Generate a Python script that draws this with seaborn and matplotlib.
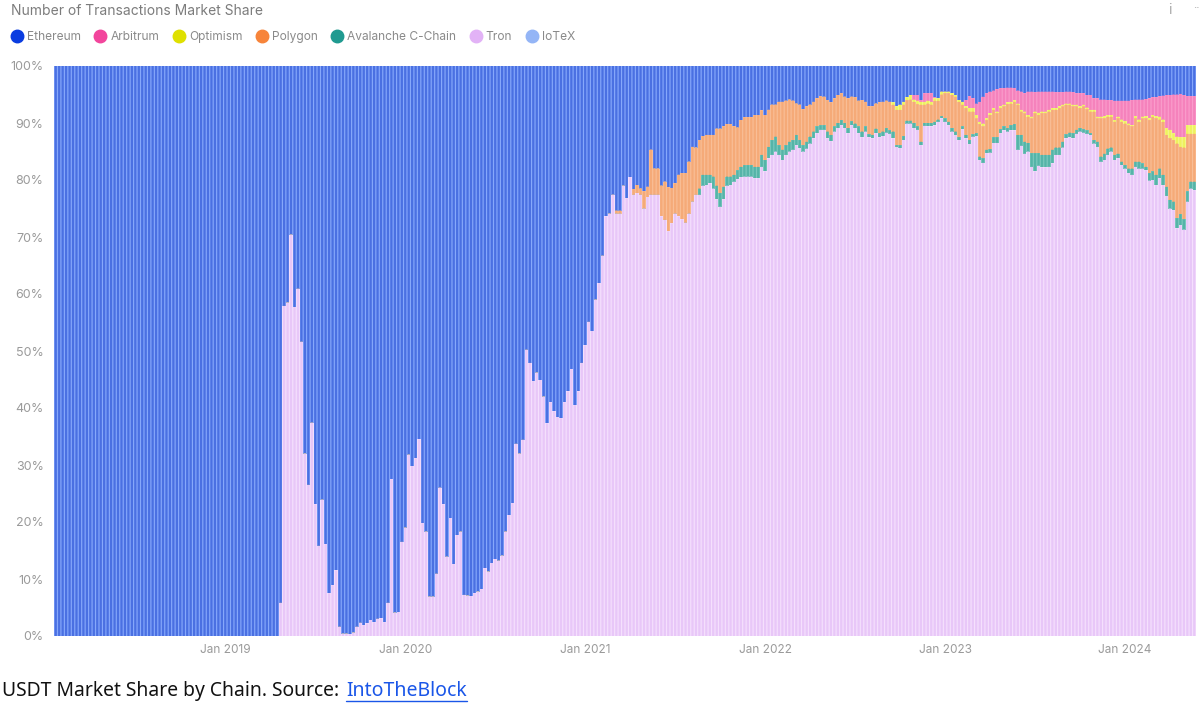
import numpy as np
import pandas as pd
import matplotlib
matplotlib.use("Agg")
import matplotlib.pyplot as plt
from matplotlib.lines import Line2D
import seaborn as sns

# upper edge of each chain in the stack, % per week
tron_top = [0] * 65 + [
    5.8, 57.9, 58.5, 70.4, 57.7, 60.9, 51.6, 32, 26.5, 37.4,
    23.1, 15.8, 23.9, 16.1, 7.5, 8.9, 11.5, 1.6, 0.4, 0.4,
    0.3, 0.6, 1.6, 2.3, 1.9, 2.2, 2.8, 2.4, 3, 3.1,
    2.4, 5.8, 27.5, 4.1, 4.2, 16.5, 19, 31.8, 29.8, 31.2,
    34.5, 19.8, 18.3, 6.9, 6.9, 10.9, 26, 23.1, 13.9, 20.7,
    12.6, 17.7, 18.3, 7.2, 7.1, 7, 7.5, 7.8, 8.2, 11.9,
    11.3, 12.8, 13.5, 13.2, 14.1, 18.3, 21.2, 23.3, 33.7, 32,
    34.4, 50.2, 47.9, 44.7, 46.2, 44.9, 42, 37.3, 41, 39.4,
    38.4, 38.2, 41, 42.9, 46.8, 40.5, 42.9, 47.9, 51, 55.1,
    53.5, 59, 61.9, 66.7, 73.6, 74.1, 77.4, 74.1, 74.1, 79,
    76.8, 80.5, 77.4, 77.7, 77.4, 75, 77, 77.4, 77.4, 77.4,
    73.6, 73, 71, 72.4, 74.1, 73.6, 73.1, 72.5, 74.1, 76.2,
    77.4, 77.4, 79, 79.1, 79.4, 78.5, 76.6, 75.3, 76.6, 79,
    79.1, 79.7, 80.1, 80.5, 80.6, 80.6, 80.6, 80.3, 80.3, 82.3,
    81.5, 83.8, 84.4, 85, 84.4, 83.5, 84.4, 85, 85.3, 86.1,
    85.6, 85, 85.5, 86.4, 87.3, 88.2, 88.8, 88.8, 87.3, 86.8,
    88.5, 89.1, 89.6, 89.1, 88.2, 89.6, 89.1, 88.2, 87.5, 88.5,
    87.5, 87.3, 88.2, 87.5, 87.7, 88.3, 88.1, 87.3, 85.8, 85.6,
    87, 89.9, 89.9, 89.1, 88.8, 86.1, 89.5, 89.4, 89.4, 89.6,
    90.2, 90.8, 90.2, 89.6, 88.5, 87.9, 87, 88.9, 87.3, 86.3,
    87.6, 87.7, 83.5, 83, 84.7, 84.8, 86.5, 86.5, 88.2, 88.7,
    88.5, 88.7, 88.7, 85.3, 86, 84.6, 85, 82.3, 81.5, 82.5,
    82.2, 82.2, 82.3, 82.9, 84.4, 84.4, 85.7, 87.3, 87.5, 87.3,
    88.1, 88.5, 88.3, 88.1, 87.9, 86.4, 85.8, 83.2, 83.5, 84.4,
    85, 83.5, 83.8, 82.6, 82, 81.2, 80.9, 82.3, 82, 82,
    81.7, 79.9, 80, 79.1, 80.3, 79.1, 77.2, 75, 74.7, 71.5,
    72.1, 71.3, 76.2, 78.5, 78.2,
]
avalanche_top = tron_top[:186] + [
    78.5, 80.9, 80.9, 80.9, 80.6, 79, 77.7, 78.8, 80.6, 80.6,
    80.9, 81.7, 82.3, 82.6, 82.6, 82.6, 82.3, 82.3, 84.4, 83.5,
    85.8, 87, 87.6, 86.1, 85.3, 86.1, 86.7, 87, 87.9, 87,
    86.1, 86.7, 87.6, 88.5, 89.4, 89.6, 89.6, 88.5, 87.9, 89.4,
    90, 90.5, 90, 89.1, 90.3, 89.9, 89.4, 88.5, 89.4, 88,
    87.9, 89, 88.2, 88.5, 89.1, 88.7, 88.5, 86.1, 86.1, 87.7,
    90.4, 90.4, 90, 89.4, 86.7, 90, 90, 90, 90.2, 90.6,
    91.2, 90.8, 90.2, 89.1, 88.5, 87.5, 89.4, 87.9, 87, 88,
    88.2, 84.1, 83.8, 85.3, 85.4, 87.5, 87.5, 88.9, 89.4, 89.1,
    89.6, 89.8, 87.9, 87.9, 86.7, 86.5, 84.7, 84.7, 84.7, 84.4,
    84.4, 84.4, 85.3, 85.7, 85.7, 86.7, 88, 88.3, 88.2, 88.8,
    89.1, 88.9, 88.7, 88.2, 87, 86.7, 84.1, 84.6, 85.5, 85.7,
    84.4, 84.6, 83.2, 82.6, 82, 82, 83.2, 83.2, 82.9, 82.3,
    81.2, 81.5, 80.9, 82, 80.9, 78.8, 76.5, 76.2, 73.3, 74,
    73.1, 78, 79.7, 79.7,
]
polygon_top = tron_top[:162] + [
    74.6, 74.6, 79, 76.8, 80.5, 78.4, 79.1, 78.5, 78, 78.8,
    85.3, 82, 82, 79, 79.7, 78.7, 78.6, 79.4, 80.9, 81.2,
    81.2, 83.2, 85.8, 85.7, 87, 87.7, 87.9, 87.9, 87.9, 89,
    89, 89.4, 89.8, 89.8, 89.4, 89.2, 90.5, 91, 91, 91,
    91.4, 91.4, 92.2, 91.4, 92.3, 93.2, 93.2, 93.7, 93.7, 93.9,
    94.1, 93.9, 93.4, 93.2, 92.4, 92.9, 93.2, 93.7, 94.3, 94.7,
    94.6, 94, 93.6, 94.3, 94.9, 95.2, 94.6, 94.3, 94.6, 94.5,
    93.9, 94, 93.7, 92.9, 92.9, 93.4, 93.6, 93.7, 93.9, 93.7,
    93.2, 92.3, 92.3, 93.2, 94, 94.1, 93.7, 93.3, 93.2, 93.2,
    93.4, 93.2, 93.9, 93.9, 95, 95.2, 95.2, 94.9, 94.6, 93.7,
    93.2, 92.6, 92, 92, 90.8, 89.8, 89.4, 90.5, 91.4, 92.3,
    91.7, 92.6, 92.9, 93.3, 93.4, 93.7, 93.2, 92, 91.7, 91.1,
    90.8, 91.7, 91.4, 91.7, 91.7, 92, 92.3, 92.3, 92.6, 92.9,
    93.2, 93.2, 92.9, 92.9, 92.6, 92.9, 92.4, 92, 92, 90.8,
    90.8, 90.8, 91.1, 91.1, 90.2, 90.8, 90.2, 89.9, 89.6, 89.4,
    90.8, 90.2, 90.8, 90.8, 90.5, 91.1, 90.8, 90.6, 90.2, 87.9,
    87.3, 87, 86.4, 85.8, 85.7, 88.1, 88.1, 88.1,
]
optimism_top = polygon_top[:242] + [
    93.6, 92.9, 93.2, 93.7, 94.5, 94.9, 94.1, 93.9, 93.7, 93.7,
    93.9, 93.7, 94.3, 94.3, 95.5, 95.5, 95.5, 95.2, 94.9, 94,
    93.7, 92.9, 92.6, 92.6, 91.4, 90.2, 89.9, 90.8, 91.7, 92.6,
    92, 92.9, 93.2, 93.6, 93.7, 94, 93.4, 92.3, 92, 91.4,
    91.1, 92, 91.8, 92, 92, 92.3, 92.6, 92.6, 92.9, 93.2,
    93.4, 93.4, 93.2, 93.2, 92.9, 93.2, 92.7, 92.3, 92.3, 91.1,
    91.1, 91.2, 91.4, 91.4, 90.5, 91.1, 90.6, 90.3, 89.9, 89.6,
    91.2, 90.6, 91.1, 91.2, 90.8, 91.4, 91.2, 91.1, 90.6, 89.1,
    88.8, 88.2, 87.6, 87.5, 87.5, 89.6, 89.6, 89.6,
]
arbitrum_top = optimism_top[:248] + [
    94.9, 94.9, 94, 95.2, 95.2, 95.2, 94.5, 94.3, 95.5, 95.5,
    95.5, 95.2, 94.9, 94, 93.7, 94, 94.7, 94.3, 93.4, 93.7,
    94.6, 95.2, 95.5, 95.7, 95.9, 96.1, 96.1, 96.2, 96.2, 96.1,
    95.7, 95.5, 95.2, 95.5, 95.5, 95.4, 95.5, 95.5, 95.5, 95.5,
    95.5, 95.4, 95.4, 95.4, 95.5, 95.5, 95.4, 95.2, 95.2, 95.2,
    94.9, 94.9, 94.3, 94.3, 94.1, 94.1, 94, 94, 93.9, 93.9,
    93.9, 93.9, 93.9, 94, 94.1, 94.1, 94.1, 94.2, 94.3, 94.5,
    94.5, 94.7, 94.8, 94.9, 94.9, 95, 95, 95.1, 94.9, 94.7,
    94.7, 94.7,
]
ethereum_top = [100] * len(tron_top)

chains = ["Ethereum", "Arbitrum", "Optimism", "Polygon", "Avalanche C-Chain", "Tron", "IoTeX"]
legend_colors = ["#0a3ce0", "#f2459c", "#dfe000", "#f7843a", "#1f9a90", "#e2b2f6", "#94b5f6"]
tick_years = [2019, 2020, 2021, 2022, 2023, 2024]
yticks = list(range(0, 101, 10))

weeks = pd.date_range("2018-01-22", periods=len(tron_top), freq="W-MON")
df = pd.DataFrame({
    "week": weeks,
    "ethereum": ethereum_top,
    "arbitrum": arbitrum_top,
    "optimism": optimism_top,
    "polygon": polygon_top,
    "avalanche": avalanche_top,
    "tron": tron_top,
})

# (column, bar colour, colour of the gap between bars), tallest layer first
layers = [
    ("ethereum", "#4a70e2", "#86a8fb"),
    ("arbitrum", "#f582bc", "#fa9ccb"),
    ("optimism", "#eef25e", "#f5f68c"),
    ("polygon", "#f5aa78", "#f9be96"),
    ("avalanche", "#55b4a8", "#7cc8be"),
    ("tron", "#e8c7f8", "#f5e0fd"),
]

sns.set_theme(style="white")
plt.rcParams["font.family"] = ["Inter", "DejaVu Sans"]
grey = "#9a9a9a"

fig = plt.figure(figsize=(12, 7.09), dpi=100)
ax = fig.add_axes([54 / 1200, 1 - 636 / 709, 1142 / 1200, 570 / 709])

for col, color, gap in layers:
    sns.barplot(x=df.index, y=df[col], color=gap, saturation=1, width=1, linewidth=0, ax=ax)
    # snap off so the stripes stay evenly spaced
    sns.barplot(x=df.index, y=df[col], color=color, saturation=1, width=0.66, linewidth=0,
                snap=False, ax=ax)

ax.set_xlim(-0.5, len(df) - 0.5)
ax.set_ylim(0, 100)
ax.set_xlabel("")
ax.set_ylabel("")
sns.despine(ax=ax, left=True, bottom=True)

tick_pos = [weeks.searchsorted(pd.Timestamp(y, 1, 1)) - 1 for y in tick_years]
ax.set_xticks(tick_pos)
ax.set_xticklabels([f"Jan {y}" for y in tick_years], fontsize=8.5, color=grey)
ax.set_yticks(yticks)
ax.set_yticklabels([f"{v}%" for v in yticks], fontsize=9, color=grey)
ax.tick_params(axis="both", length=0)
ax.tick_params(axis="x", pad=6)
ax.tick_params(axis="y", pad=7.5)

fig.text(11 / 1200, 1 - 11 / 709, "Number of Transactions Market Share", fontsize=10,
         color="#7c7c7c", va="center", ha="left")
fig.text(1170 / 1200, 1 - 10 / 709, "i", fontsize=10, color="#a8a8a8", va="center", ha="center")
fig.text(1196 / 1200, 1 - 8 / 709, "··", fontsize=8, color="#a8a8a8", va="center", ha="center")

handles = [Line2D([], [], linestyle="", marker="o", markersize=9, color=c) for c in legend_colors]
fig.legend(handles, chains, loc="center left", bbox_to_anchor=(5 / 1200, 1 - 37 / 709), ncols=7,
           frameon=False, fontsize=8.6, labelcolor="#8a8a8a", handletextpad=-0.15,
           columnspacing=0.62, borderpad=0, borderaxespad=0)

# caption with the link part in blue and underlined
caption = fig.text(2 / 1200, 1 - 691 / 709, "USDT Market Share by Chain. Source: ", fontsize=13.9,
                   family="Noto Sans", color="#111111", va="center", ha="left")
renderer = fig.canvas.get_renderer()
link = fig.text(346 / 1200, 1 - 691 / 709, "IntoTheBlock", fontsize=14, family="Noto Sans",
                color="#1a56e8", va="center", ha="left")
link_box = link.get_window_extent(renderer)
fig.add_artist(Line2D([link_box.x0 / 1200, link_box.x1 / 1200], [1 - 700.5 / 709, 1 - 700.5 / 709],
                      color="#1a56e8", linewidth=1))

fig.savefig("out.png", dpi=100)
